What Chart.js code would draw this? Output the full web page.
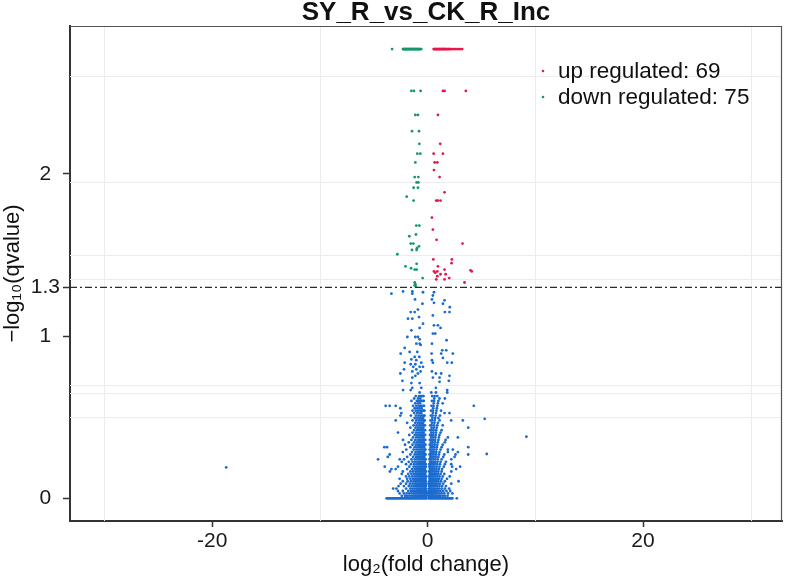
<!DOCTYPE html>
<html><head><meta charset="utf-8">
<script src="https://cdn.jsdelivr.net/npm/chart.js@4/dist/chart.umd.min.js"></script>
<style>html,body{margin:0;padding:0;background:#fff;}#wrap{width:787px;height:581px;}</style>
</head><body><div id="wrap"><canvas id="c" width="787" height="581"></canvas></div>
<script>
const titleText = 'SY_R_vs_CK_R_Inc';
const xTitle = 'log\u2082(fold change)';
const yTitle = '\u2212log\u2081\u2080(qvalue)';
const xTicks = [-20, 0, 20];
const yTicks = [0, 1, 1.3, 2];
const qThreshold = 1.3;
const legendLabels = ['up regulated: 69', 'down regulated: 75'];
const gridX = [-30, -10, 10, 30];
const gridY = [0.50, 0.65, 0.70, 1.35, 1.50, 1.95, 2.60];

// up regulated (red)
const upX = [0.56,0.62,0.68,0.74,0.80,0.86,0.92,0.98,1.04,1.10,1.16,1.22,1.28,1.34,1.40,1.46,1.52,1.58,1.64,1.70,1.76,1.84,1.92,2.00,2.08,2.16,2.30,2.45,2.60,2.75,2.90,3.05,3.21,
  1.42,1.57,3.55,0.96,1.17,0.56,1.42,0.65,0.90,0.59,1.11,1.57,0.80,0.95,1.20,0.40,0.49,0.83,3.24,0.53,2.25,2.22,0.96,1.57,0.59,0.90,4.10,3.98,0.71,1.20,1.67,0.90,2.01,0.80,1.57,3.43];
const upY = [2.769,2.769,2.769,2.769,2.769,2.769,2.769,2.769,2.769,2.769,2.769,2.769,2.769,2.769,2.769,2.769,2.769,2.769,2.769,2.769,2.769,2.769,2.769,2.769,2.769,2.769,2.769,2.769,2.769,2.769,2.769,2.769,2.769,
  2.511,2.511,2.511,2.363,2.185,2.124,2.124,2.070,2.070,2.023,1.980,1.886,1.835,1.835,1.835,1.730,1.656,1.593,1.570,1.472,1.472,1.449,1.430,1.410,1.398,1.398,1.398,1.405,1.390,1.381,1.381,1.369,1.357,1.349,1.349,1.330];

// down regulated (green)
const downX = [-3.30,-2.29,-2.24,-2.19,-2.14,-2.09,-2.04,-1.99,-1.94,-1.89,-1.84,-1.79,-1.74,-1.69,-1.64,-1.59,-1.54,-1.49,-1.44,-1.39,-1.34,-1.29,-1.24,-1.19,-1.14,-1.09,-1.04,-0.99,-0.94,-0.89,-0.84,-0.79,-0.74,-0.69,-0.59,
  -1.51,-1.27,-0.65,-1.14,-0.90,-1.45,-0.80,-0.77,-0.96,-0.68,-1.14,-1.20,-0.86,-1.02,-0.86,-1.30,-0.90,-1.94,-1.30,-1.05,-0.77,-1.08,-1.70,-1.57,-1.32,-0.80,-0.99,-1.45,-1.02,-2.81,-1.02,-2.06,-1.54,-1.20,-1.02,-0.46,-1.20,-1.14,-1.20,-1.10];
const downY = [2.769,2.769,2.769,2.769,2.769,2.769,2.769,2.769,2.769,2.769,2.769,2.769,2.769,2.769,2.769,2.769,2.769,2.769,2.769,2.769,2.769,2.769,2.769,2.769,2.769,2.769,2.769,2.769,2.769,2.769,2.769,2.769,2.769,2.769,2.769,
  2.511,2.511,2.511,2.363,2.363,2.263,2.263,2.185,2.124,2.124,2.070,1.980,1.980,1.947,1.947,1.914,1.914,1.859,1.835,1.681,1.681,1.626,1.615,1.570,1.570,1.553,1.541,1.531,1.531,1.504,1.445,1.430,1.418,1.410,1.410,1.357,1.330,1.320,1.312,1.305];

// not significant (blue): baseline band at -log10(q)=0
const nsBaseX = [-3.8,-3.7,-3.6,-3.5,-3.4,-3.3,-3.2,-3.1,-3.0,-2.9,-2.8,-2.7,-2.6,-2.5,-2.4,-2.3,-2.2,-2.1,-2.0,-1.9,-1.8,-1.7,-1.6,-1.5,-1.4,-1.3,-1.2,-1.1,-1.0,-0.9,-0.8,-0.7,-0.6,-0.5,-0.4,-0.3,-0.2,-0.1,0.1,0.2,0.3,0.4,0.5,0.6,0.7,0.8,0.9,1.0,1.1,1.2,1.3,1.4,1.5,1.6,1.7,1.8,1.9,2.0,2.1,2.2,2.3,2.71];

// dense core, one list of fold changes per -log10(q) level
const nsLevels = [0.015,0.03,0.045,0.06,0.075,0.09,0.105,0.12,0.135,0.15,0.165,0.18,0.195,0.21,0.225,0.24,0.255,0.27,0.285,0.30,0.315,0.33,0.345,0.36,0.375,0.39,0.405,0.42,0.435,0.45,0.465,0.48,0.495,0.51,0.525,0.54,0.555,0.57,0.585,0.60,0.615,0.63];
const nsRowX = [
  [-2.4,-2.1,-1.9,-1.7,-1.5,-1.35,-1.2,-1.05,-0.9,-0.8,-0.7,-0.6,-0.5,-0.4,-0.3,-0.2,-0.1,0.1,0.2,0.3,0.4,0.5,0.6,0.75,0.9,1.05,1.2,1.4,1.6,1.85],
  [-2.6,-2.2,-1.95,-1.7,-1.5,-1.3,-1.15,-1.0,-0.85,-0.72,-0.6,-0.48,-0.36,-0.25,-0.14,-0.06,0.08,0.18,0.28,0.38,0.5,0.62,0.75,0.9,1.1,1.3,1.55,1.9,2.3],
  [-2.75,-2.3,-1.8,-1.55,-1.35,-1.2,-1.05,-0.9,-0.78,-0.66,-0.55,-0.44,-0.33,-0.22,-0.12,0.1,0.2,0.3,0.42,0.55,0.68,0.82,1.0,1.2,1.45,1.75,2.1],
  [-3.2,-2.9,-2.0,-1.6,-1.4,-1.22,-1.05,-0.92,-0.8,-0.68,-0.56,-0.45,-0.34,-0.24,-0.14,0.12,0.22,0.33,0.45,0.58,0.72,0.88,1.05,1.3,1.6,2.0],
  [-2.7,-2.2,-1.75,-1.5,-1.3,-1.12,-0.98,-0.85,-0.72,-0.6,-0.48,-0.37,-0.26,-0.16,0.14,0.25,0.36,0.48,0.6,0.74,0.9,1.1,1.35,1.7],
  [-2.5,-2.0,-1.65,-1.4,-1.2,-1.05,-0.9,-0.78,-0.66,-0.55,-0.44,-0.33,-0.22,-0.12,0.12,0.15,0.26,0.38,0.5,0.63,0.78,0.95,1.15,1.45,2.2],
  [-2.3,-1.85,-1.55,-1.3,-1.12,-0.97,-0.84,-0.72,-0.6,-0.49,-0.38,-0.27,-0.17,0.16,0.28,0.4,0.53,0.67,0.82,1.0,1.25,1.6,2.87],
  [-2.6,-1.9,-1.6,-1.35,-1.15,-0.98,-0.85,-0.73,-0.61,-0.5,-0.39,-0.28,-0.18,0.17,0.29,0.42,0.55,0.7,0.87,1.05,1.3,1.8],
  [-2.0,-1.7,-1.42,-1.2,-1.02,-0.88,-0.75,-0.63,-0.52,-0.41,-0.3,-0.2,-0.13,0.14,0.18,0.3,0.43,0.57,0.72,0.9,1.1,1.4,2.05],
  [-2.4,-1.8,-1.5,-1.25,-1.05,-0.9,-0.77,-0.65,-0.54,-0.43,-0.32,-0.22,0.19,0.31,0.45,0.6,0.76,0.95,1.2,1.55],
  [-3.5,-2.3,-1.6,-1.35,-1.12,-0.95,-0.8,-0.67,-0.55,-0.44,-0.33,-0.23,-0.15,0.15,0.2,0.32,0.46,0.62,0.8,1.0,1.3,2.2],
  [-3.36,-2.96,-1.9,-1.45,-1.2,-1.0,-0.84,-0.7,-0.57,-0.45,-0.34,-0.24,0.21,0.33,0.47,0.63,0.82,1.05,1.35,2.65],
  [-3.98,-2.75,-1.7,-1.3,-1.08,-0.9,-0.74,-0.6,-0.47,-0.35,-0.25,-0.16,0.16,0.22,0.34,0.48,0.64,0.85,1.1,1.5,2.28,3.02],
  [-2.0,-1.55,-1.25,-1.02,-0.85,-0.7,-0.56,-0.43,-0.3,-0.18,0.16,0.22,0.35,0.5,0.67,0.88,1.15,1.6,2.19],
  [-2.4,-1.75,-1.4,-1.15,-0.95,-0.78,-0.63,-0.5,-0.37,-0.26,0.23,0.36,0.52,0.7,0.92,1.2,1.7],
  [-4.6,-2.59,-2.19,-1.5,-1.2,-0.98,-0.8,-0.65,-0.52,-0.39,-0.27,-0.18,0.17,0.24,0.37,0.53,0.72,0.95,1.3,2.2],
  [-3.7,-1.9,-1.35,-1.08,-0.88,-0.72,-0.57,-0.43,-0.3,0.25,0.38,0.55,0.75,1.0,1.45,2.5],
  [-3.52,-1.6,-1.2,-0.98,-0.8,-0.64,-0.5,-0.36,-0.26,-0.19,0.18,0.26,0.4,0.57,0.78,1.05,1.55,2.59,3.77],
  [-2.3,-1.45,-1.12,-0.9,-0.73,-0.58,-0.44,-0.31,0.27,0.41,0.58,0.8,1.1,1.88,2.81],
  [-1.98,-1.3,-1.05,-0.85,-0.68,-0.53,-0.39,-0.28,-0.2,0.19,0.28,0.42,0.6,0.82,1.2,1.88,2.34],
  [-4.02,-3.77,-1.6,-1.2,-0.95,-0.76,-0.6,-0.46,-0.32,0.29,0.44,0.62,0.86,1.3,3.77],
  [-2.1,-1.4,-1.1,-0.88,-0.7,-0.55,-0.4,-0.28,-0.2,0.2,0.3,0.45,0.65,0.9,1.4],
  [-1.75,-1.25,-1.0,-0.8,-0.63,-0.48,-0.35,0.31,0.47,0.68,0.95,1.6],
  [-2.28,-1.5,-1.15,-0.92,-0.73,-0.57,-0.42,-0.3,-0.22,0.21,0.32,0.48,0.7,1.0,1.67],
  [-1.35,-1.05,-0.84,-0.66,-0.5,-0.37,0.33,0.5,0.72,1.05,1.88,2.81],
  [-1.7,-1.2,-0.96,-0.76,-0.59,-0.44,-0.32,-0.23,0.22,0.34,0.52,0.75,1.1],
  [-2.75,-1.4,-1.08,-0.86,-0.68,-0.52,-0.38,0.35,0.54,0.78,1.2],
  [-1.25,-0.98,-0.78,-0.6,-0.45,-0.33,-0.24,0.23,0.36,0.55,0.8,1.3],
  [-1.6,-1.12,-0.9,-0.7,-0.53,-0.4,0.37,0.57,0.84,3.77],
  [-1.3,-1.02,-0.8,-0.62,-0.46,-0.34,-0.25,0.25,0.38,0.6,0.9,1.4],
  [-1.9,-1.15,-0.92,-0.72,-0.55,-0.41,0.4,0.63,0.95],
  [-2.96,-1.4,-1.05,-0.82,-0.63,-0.47,-0.35,-0.27,0.27,0.42,0.66,1.11,2.19,3.27],
  [-1.2,-0.95,-0.74,-0.56,-0.42,0.44,0.7,1.0],
  [-2.53,-1.55,-1.08,-0.85,-0.66,-0.5,-0.37,-0.28,0.3,0.46,0.74,1.15],
  [-2.44,-1.25,-0.97,-0.76,-0.58,0.48,0.78,1.57,2.03],
  [-1.4,-1.1,-0.88,-0.68,-0.52,-0.39,-0.3,0.32,0.5,0.82,1.25],
  [-2.53,-1.2,-0.95,-0.74,-0.56,0.52,0.86],
  [-3.89,-3.52,-2.96,-1.35,-1.05,-0.82,-0.62,-0.45,-0.33,0.36,0.55,0.9,4.29],
  [-1.15,-0.9,-0.7,0.57,0.95,1.4],
  [-1.5,-1.0,-0.78,-0.6,-0.46,-0.36,0.4,0.6,1.0],
  [-1.25,-0.88,-0.68,0.62,1.1,1.6],
  [-1.1,-0.8,-0.62,-0.48,-0.38,0.42,0.65,0.9]
];

// sparse upper not-significant points and outliers
const nsSparseX = [-3.36,-2.28,-1.42,-1.42,-0.43,0.59,0.49,-1.17,0.40,1.57,0.59,-0.48,1.42,2.06,-0.90,-1.57,-1.20,1.60,2.03,0.49,-0.80,-1.42,-1.82,-0.43,0.59,0.96,1.20,-0.74,-1.51,0.49,0.71,-1.14,-1.88,-0.90,-0.74,1.76,-1.05,-0.74,0.40,-0.65,-2.13,1.73,1.36,-1.67,-0.96,-2.50,0.37,2.34,1.26,-1.20,-0.77,1.42,-1.51,-1.05,0.40,-2.13,-0.59,0.49,1.82,2.25,-1.57,-1.14,-1.33,-0.74,-0.43,-2.19,-1.05,-1.42,-0.65,0.40,-2.53,-0.90,0.77,1.26,-1.14,2.03,-1.42,0.49,1.11,-2.34,1.97,1.11,-1.51,-0.74,-1.42,-0.59,0.77,-2.28,-1.57,1.82,-0.74,0.34,0.77,1.82,
  -18.7,9.17,5.30,5.49];
const nsSparseY = [1.261,1.275,1.275,1.261,1.270,1.270,1.250,1.226,1.226,1.220,1.205,1.199,1.199,1.178,1.163,1.148,1.148,1.148,1.148,1.127,1.117,1.107,1.107,1.076,1.066,1.066,1.050,1.050,1.035,1.015,1.015,0.994,0.994,0.994,0.980,0.974,0.953,0.953,0.953,0.945,0.927,0.912,0.912,0.902,0.902,0.892,0.892,0.892,0.892,0.871,0.871,0.865,0.856,0.851,0.851,0.836,0.836,0.836,0.836,0.836,0.826,0.826,0.810,0.810,0.810,0.795,0.795,0.782,0.782,0.782,0.769,0.769,0.769,0.769,0.755,0.755,0.744,0.744,0.744,0.724,0.724,0.718,0.710,0.710,0.681,0.681,0.681,0.667,0.667,0.667,0.652,0.652,0.652,0.652,
  0.19,0.38,0.49,0.273];

const xMin = -33.2, xMax = 32.9, yMin = -0.14, yMax = 2.911;

const colUp = '#E3194C', colDown = '#15976C', colNs = '#1B6BCF';
const FONT = "'Liberation Sans', Arial, Helvetica, sans-serif";
Chart.defaults.font.family = FONT;

const nsPts = [];
nsBaseX.forEach(x => nsPts.push({x: x, y: 0}));
nsLevels.forEach((lv, i) => nsRowX[i].forEach(x => nsPts.push({x: x, y: lv})));
nsSparseX.forEach((x, i) => nsPts.push({x: x, y: nsSparseY[i]}));
const upPts = upX.map((x, i) => ({x: x, y: upY[i]}));
const downPts = downX.map((x, i) => ({x: x, y: downY[i]}));

const decor = {
  id: 'decor',
  beforeDatasetsDraw(chart) {
    const {ctx, chartArea: a, scales: {x, y}} = chart;
    ctx.save();
    ctx.strokeStyle = '#ececec';
    ctx.lineWidth = 1;
    gridX.forEach(v => { const p = Math.round(x.getPixelForValue(v)) + 0.5; ctx.beginPath(); ctx.moveTo(p, a.top); ctx.lineTo(p, a.bottom); ctx.stroke(); });
    gridY.forEach(v => { const p = Math.round(y.getPixelForValue(v)) + 0.5; ctx.beginPath(); ctx.moveTo(a.left, p); ctx.lineTo(a.right, p); ctx.stroke(); });
    ctx.restore();
  },
  afterDraw(chart) {
    const {ctx, chartArea: a} = chart;
    ctx.save();
    ctx.strokeStyle = '#555';
    ctx.lineWidth = 1.2;
    ctx.beginPath();
    ctx.moveTo(a.left, a.top + 0.5); ctx.lineTo(a.right - 0.5, a.top + 0.5); ctx.lineTo(a.right - 0.5, a.bottom);
    ctx.stroke();
    // legend
    const cols = [colUp, colDown];
    ctx.font = '22.5px ' + FONT;
    ctx.textBaseline = 'middle';
    ctx.textAlign = 'left';
    legendLabels.forEach((t, i) => {
      const cy = 71 + i * 26;
      ctx.fillStyle = cols[i];
      ctx.beginPath(); ctx.arc(543, cy, 1.3, 0, Math.PI * 2); ctx.fill();
      ctx.fillStyle = '#111';
      ctx.fillText(t, 558, cy + 1);
    });
    ctx.restore();
  }
};

new Chart(document.getElementById('c'), {
  type: 'scatter',
  data: {
    datasets: [
      {label: 'threshold', type: 'line', data: [{x: xMin, y: qThreshold}, {x: xMax, y: qThreshold}], borderColor: '#2a2a2a', borderWidth: 1.3, borderDash: [7, 3, 2, 3], pointRadius: 0, order: 0},
      {label: 'up', data: upPts, backgroundColor: colUp, pointRadius: 1.4, borderWidth: 0, order: 1},
      {label: 'down', data: downPts, backgroundColor: colDown, pointRadius: 1.4, borderWidth: 0, order: 2},
      {label: 'ns', data: nsPts, backgroundColor: colNs, pointRadius: 1.4, borderWidth: 0, order: 3}
    ]
  },
  options: {
    responsive: false,
    animation: false,
    devicePixelRatio: 1,
    layout: {padding: {top: 0, right: 5, bottom: 0, left: 0}},
    plugins: {
      legend: {display: false},
      tooltip: {enabled: false},
      title: {display: true, text: titleText, fullSize: false, color: '#111', font: {size: 26, weight: 'bold', lineHeight: 1}, padding: {top: 0, bottom: 0}}
    },
    scales: {
      x: {
        type: 'linear', min: xMin, max: xMax,
        afterBuildTicks: s => { s.ticks = xTicks.map(v => ({value: v})); },
        afterFit: s => { s.height = 60; },
        ticks: {color: '#1a1a1a', font: {size: 21}, padding: 2, maxRotation: 0, autoSkip: false, callback: v => String(v)},
        grid: {drawOnChartArea: false, drawTicks: true, tickLength: 6, tickColor: '#333', tickWidth: 1.5},
        border: {color: '#333', width: 2},
        title: {display: true, text: xTitle, color: '#111', font: {size: 22}, padding: {top: 0, bottom: 3}}
      },
      y: {
        type: 'linear', min: yMin, max: yMax,
        afterBuildTicks: s => { s.ticks = yTicks.map(v => ({value: v})); },
        afterFit: s => { s.width = 70; },
        ticks: {color: '#1a1a1a', font: {size: 21}, padding: 3, crossAlign: 'center', autoSkip: false, callback: v => String(v)},
        grid: {drawOnChartArea: false, drawTicks: true, tickLength: 7, tickColor: '#333', tickWidth: 1.5},
        border: {color: '#333', width: 2},
        title: {display: true, text: yTitle, color: '#111', font: {size: 22}, padding: {top: 0, bottom: 0}}
      }
    }
  },
  plugins: [decor]
});
</script>
</body></html>
